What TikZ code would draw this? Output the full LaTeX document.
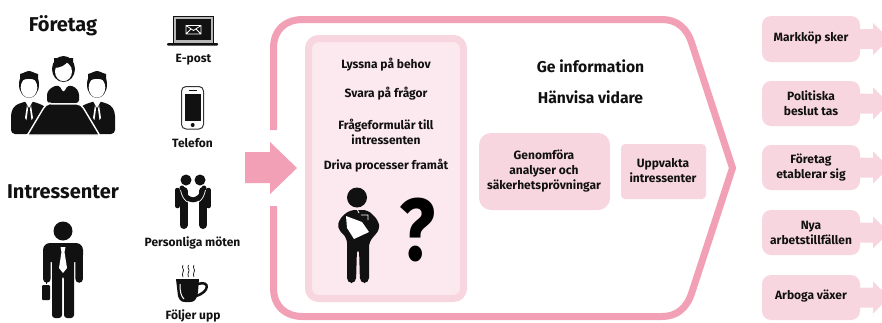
\documentclass[tikz,border=0pt]{standalone}
\usepackage{fontspec}
\setmainfont{Fira Sans}
\definecolor{ink}{HTML}{111111}
\definecolor{rosa}{HTML}{F2A0B5}
\definecolor{ljus}{HTML}{F8D6E0}
\definecolor{blek}{HTML}{FCE9F0}
\tikzset{
 lab/.style={font=\fontsize{12}{15}\selectfont\bfseries,align=center,text=ink,inner sep=0pt},
 big/.style={font=\fontsize{20}{24}\selectfont\bfseries,text=ink,inner sep=0pt},
 mid/.style={font=\fontsize{15.7}{18}\selectfont\bfseries,text=ink,inner sep=0pt},
 ic/.style={fill=ink,draw=none},
 wh/.style={fill=white,draw=none},
 limb/.style={draw=ink,line cap=round,line join=round},
 softbox/.style={fill=ljus,draw=none},
 softarrow/.style={fill=ljus,draw=none}
}
\begin{document}
\begin{tikzpicture}[x=1pt,y=-1pt]
\useasboundingbox (0,0) rectangle (882,322);
% outline
\draw[rosa,line width=7pt,line join=round] (273.5,130) -- (273.5,48) .. controls (273.5,30) and (285,19.5) .. (303,19.5) -- (662,19.5) .. controls (677,19.5) and (687,28) .. (692,44) -- (732.5,168) -- (692,292) .. controls (687,308) and (677,316.5) .. (662,316.5) -- (303,316.5) .. controls (285,316.5) and (273.5,306) .. (273.5,288) -- (273.5,206);
% big arrow
\fill[rosa] (245,152) -- (270,152) -- (270,142) -- (297,168) -- (270,194) -- (270,183) -- (245,183) -- cycle;
% panel
\draw[ljus,fill=blek,line width=7pt,rounded corners=10pt] (308.5,38.5) rectangle (463.5,298.5);
% boxes
\fill[softbox,rounded corners=12pt] (479,133) rectangle (610,210);
\fill[softbox,rounded corners=4pt] (621,144) rectangle (706,199);
\foreach \t/\b in {16/62,81/126,145/190,210/255,275/320}{
  \fill[softbox,rounded corners=9pt] (762,\t) rectangle (860,\b);
  \pgfmathsetmacro{\m}{(\t+\b)/2}
  \fill[softarrow] (860,\m-10) -- (873,\m-10) -- (873,\m-16) -- (882,\m-7) -- (882,\m+7) -- (873,\m+16) -- (873,\m+10) -- (860,\m+10) -- cycle;
}
% texts
\node[big] (foretag) at (63,26) {Företag};
\node[big] (intr) at (63,192) {Intressenter};
\node[lab] (epost) at (193.5,60) {E-post};
\node[lab] (tel) at (192.5,143.5) {Telefon};
\node[lab] (pers) at (192.5,243) {Personliga möten};
\node[lab] (foljer) at (193,316) {Följer upp};
\node[lab] (lyssna) at (386,65) {Lyssna på behov};
\node[lab] (svara) at (386,94) {Svara på frågor};
\node[lab] (fraga) at (386,131.5) {Frågeformulär till\\intressenten};
\node[lab] (driva) at (386,166) {Driva processer framåt};
\node[mid] (ge) at (590.5,66) {Ge information};
\node[mid] (hanv) at (590.5,97) {Hänvisa vidare};
\node[lab] (genom) at (544,171.5) {Genomföra\\analyser och\\säkerhetsprövningar};
\node[lab] (uppv) at (663,170.5) {Uppvakta\\intressenter};
\node[lab] (r1) at (811,38.5) {Markköp sker};
\node[lab] (r2) at (811,103.5) {Politiska\\beslut tas};
\node[lab] (r3) at (811,168) {Företag\\etablerar sig};
\node[lab] (r4) at (811,233) {Nya\\arbetstillfällen};
\node[lab] (r5) at (811,296.5) {Arboga växer};
\node[font=\fontsize{88}{90}\selectfont\bfseries,text=black,inner sep=0pt,xscale=.85] (fr) at (417.5,230) {?};
% laptop
\fill[fill=ink] (173,16) rectangle (214,43);
\fill[fill=gray!55] (174,17) rectangle (213,43);
\fill[ink] (176,19) rectangle (211,40);
\fill[ink,rounded corners=1pt] (167,43) rectangle (218,45.5);
\draw[white,line width=.8pt] (186,25.5) rectangle (201,34) (186,25.5) -- (193.5,30.5) -- (201,25.5) (186,34) -- (191,29) (201,34) -- (196,29);
% phone
\draw[ink!85,line width=1pt,fill=white,rounded corners=4.5pt] (181.5,86.5) rectangle (203.5,129);
\fill[ink] (184.5,94) rectangle (201,121);
\fill[ink] (192.7,125) circle (2);
\draw[ink,line width=1pt] (188.5,90.5) -- (197,90.5);
% group: bodies
\fill[ic,rounded corners=4pt] (11,134) -- (11,112) -- (15,105) -- (27,101) -- (31,101) -- (43,105) -- (50,112) -- (30,134) -- cycle;
\fill[ic,rounded corners=4pt] (115,134) -- (115,112) -- (111,105) -- (99,101) -- (95,101) -- (83,105) -- (76,112) -- (96,134) -- cycle;
\fill[wh] (25,101) -- (29,108) -- (33,101) -- cycle;
\fill[wh] (93,101) -- (97,108) -- (101,101) -- cycle;
\fill[wh] (27,105) -- (25,118) -- (26.5,120) -- (28,109) -- cycle;
\fill[wh] (31,105) -- (33,118) -- (31.5,120) -- (30,109) -- cycle;
\fill[wh] (95,105) -- (93,118) -- (94.5,120) -- (96,109) -- cycle;
\fill[wh] (99,105) -- (101,118) -- (99.5,120) -- (98,109) -- cycle;
% woman
\fill[ic,rounded corners=3pt] (47,103) -- (47,92) -- (52,87) -- (59,85) -- (63.5,93) -- (68,85) -- (75,87) -- (79,92) -- (79,103) -- cycle;
\fill[ic] (63.5,69) ellipse (11.5 and 13);
\fill[wh] (63.5,71.5) ellipse (8.5 and 9.7);
\fill[ic] (54,68) .. controls (60,68) and (66,65) .. (68,61) .. controls (69,65) and (71,67) .. (73,68) -- (73,58) -- (54,58) -- cycle;
% table
\draw[white,line width=1.4pt,fill=ink,rounded corners=1pt] (50,104) -- (76,104) .. controls (80,104) and (82,106) .. (84,109) -- (99.5,135) -- (27.5,135) -- (43,109) .. controls (45,106) and (47,104) .. (50,104) -- cycle;
\foreach \c in {29,97}{
  \fill[ic] (\c,84.5) ellipse (10 and 13.5);
  \fill[wh] (\c,87.5) ellipse (8.3 and 10.2);
  \fill[ic] (\c-9,84) .. controls (\c-8,77) and (\c+8,77) .. (\c+9,84) -- (\c+9,74) -- (\c,71) -- (\c-9,74) -- cycle;
}
% man with briefcase
\fill[ic] (63,231) circle (9.5);
\draw[limb,line width=7.5pt] (47,253) -- (46.8,279);
\draw[limb,line width=7.5pt] (79,253) -- (79.2,279);
\fill[ic,rounded corners=7pt] (43,262) -- (43,243) -- (83,243) -- (83,262) -- cycle;
\fill[ic,rounded corners=3pt] (52,250) -- (74,250) -- (74,318) -- (64,318) -- (64,276) -- (62,276) -- (62,318) -- (52,318) -- cycle;
\fill[wh] (60.5,247) -- (65.5,247) -- (64.5,252) -- (67,268) -- (63,273) -- (59,268) -- (61.5,252) -- cycle;
\fill[ic,rounded corners=1pt] (42,285) rectangle (50,300);
\draw[ink,line width=1pt] (46,284) -- (46,281);
% handshake
\fill[ic] (186,180) circle (5.5);
\fill[ic] (200,180) circle (5.5);
\draw[limb,line width=4.5pt] (177.5,190) -- (177.5,206);
\draw[limb,line width=4.5pt] (208.5,190) -- (208.5,206);
\draw[limb,line width=8pt] (183.5,191) -- (183.5,225);
\draw[limb,line width=8pt] (203,191) -- (203,225);
\draw[limb,line width=5pt] (182,188) .. controls (184,197) and (188,199) .. (193,200);
\draw[limb,line width=5pt] (204,188) .. controls (202,197) and (198,199) .. (193,200);
\draw[white,line width=.7pt] (180.5,190) .. controls (183,202) and (189,204) .. (196,203);
\draw[white,line width=.7pt] (205.5,190) .. controls (203,202) and (197,204) .. (190,203);
% cup
\fill[ic] (176,279) -- (199,279) -- (198,292) .. controls (197,300) and (194,302) .. (190,302) -- (185,302) .. controls (181,302) and (178,300) .. (177.5,292) -- cycle;
\draw[ink,line width=2.5pt] (198,284) .. controls (210,280) and (210,292) .. (196,296);
\draw[white,line width=1pt] (180,284) .. controls (180,292) and (181,296) .. (184,299);
\foreach \x in {183,188.5,194}{
  \draw[ink,line width=.7pt] (\x,265) .. controls (\x-2,268) and (\x+2,270) .. (\x,272) .. controls (\x-1.5,274) and (\x,275) .. (\x,277);
}
% person with paper
\fill[ic] (357,197.5) circle (10);
\fill[ic,rounded corners=5pt] (337,228) -- (340,218) -- (350,210) -- (368,210) -- (378,220) -- (380,229) -- (369,242) -- (369,283) -- (360,283) -- (359,248) -- (357,248) -- (356,283) -- (347,283) -- (347,238) -- cycle;
\fill[wh] (346,216) -- (362,222) -- (369,232) -- (354,239) -- (347,228) -- cycle;
\draw[white,line width=.7pt] (361,215) -- (368,215) -- (368,220) (357,209) -- (359,213);
\end{tikzpicture}
\end{document}
